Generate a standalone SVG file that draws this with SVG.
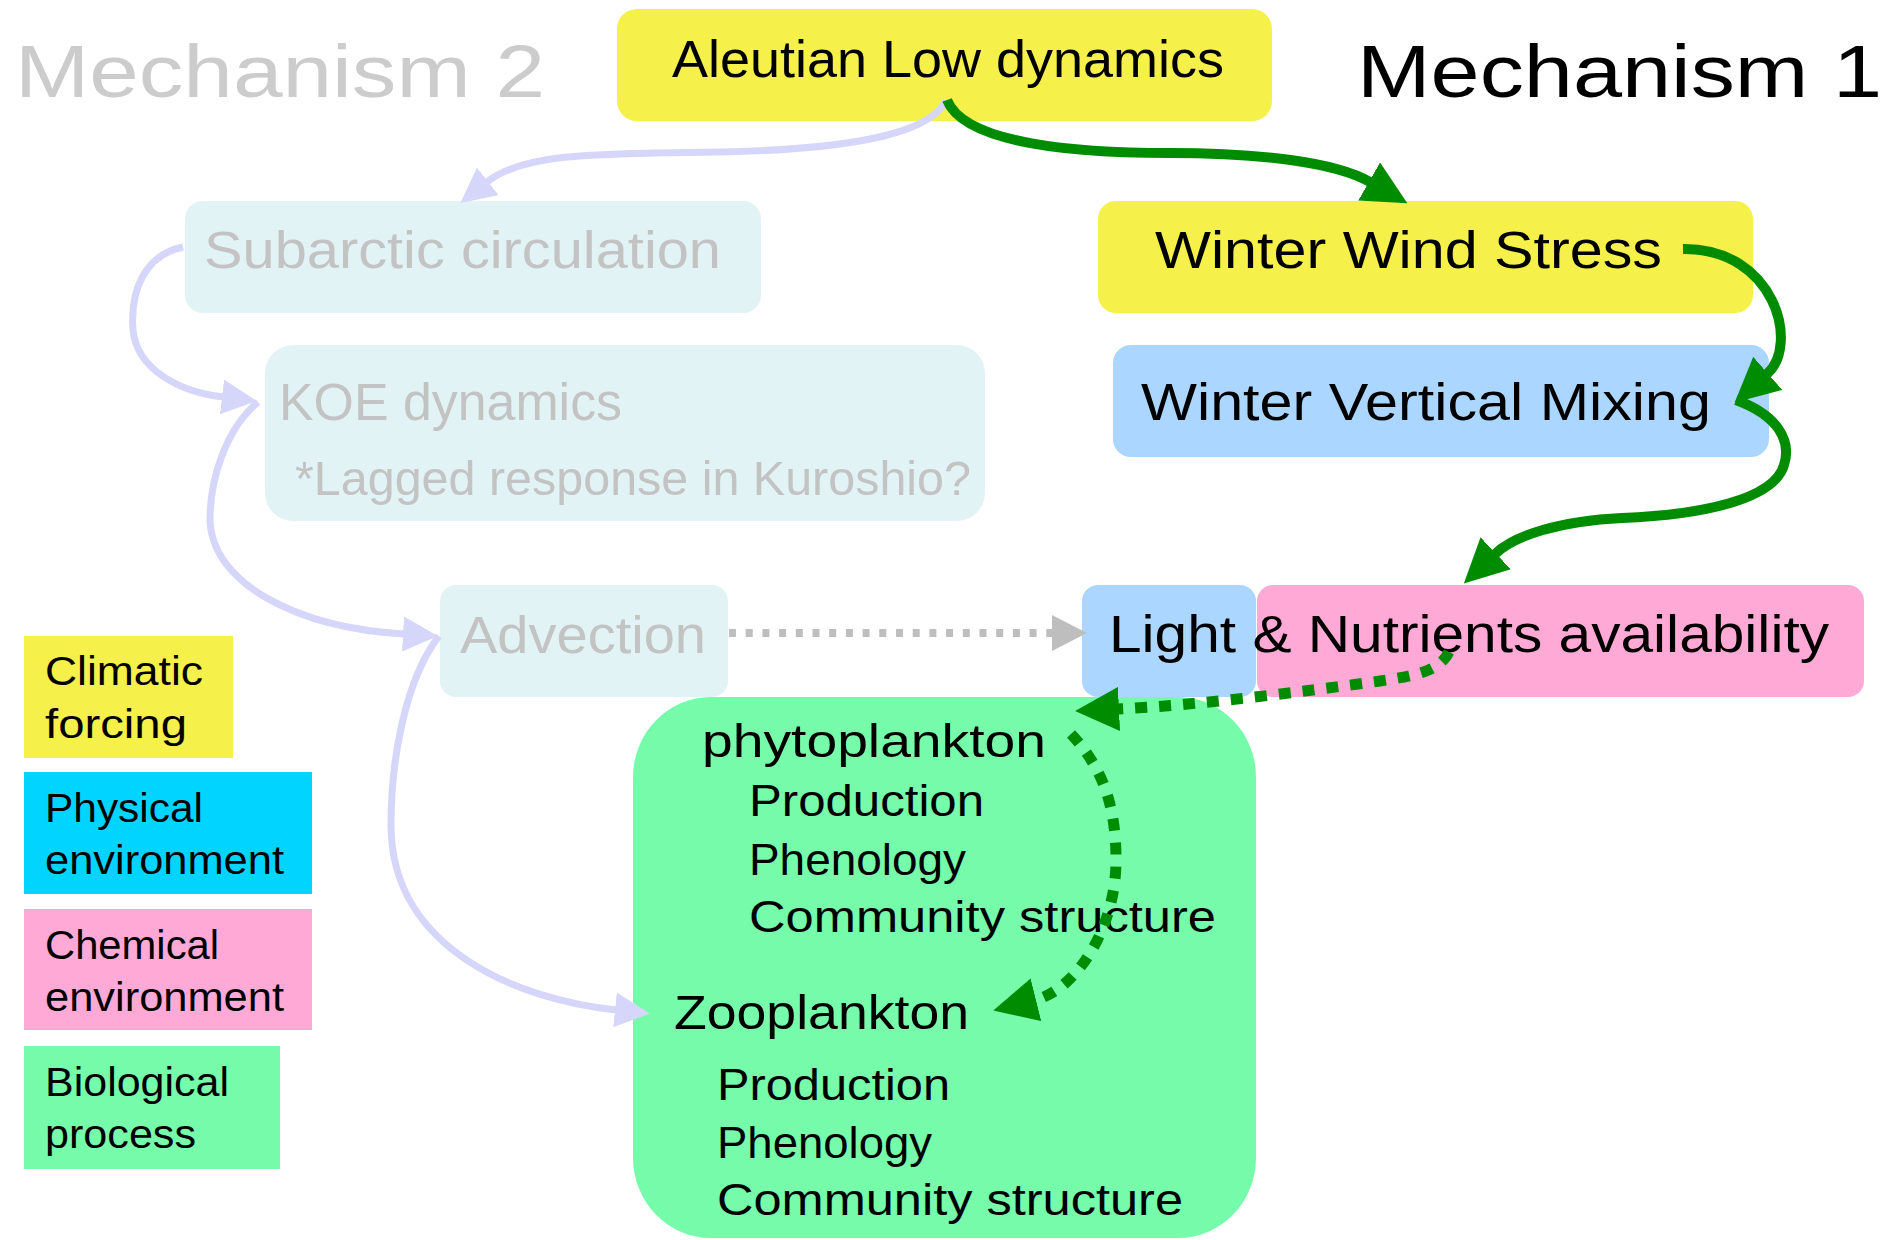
<svg xmlns="http://www.w3.org/2000/svg" width="1903" height="1240" viewBox="0 0 1903 1240">
<style>
text{font-family:"Liberation Sans",Arial,sans-serif;fill:#000}
.m2 text{fill:#c3c3c3}
.yel{fill:#f5f04a}
.pale{fill:#e1f3f5}
.blu{fill:#aad6ff}
.pnk{fill:#ffaad6}
.grn{fill:#76fbab}
.cyn{fill:#00d4ff}
.lav{fill:none;stroke:#d6d6fb;stroke-width:7}
.gs{fill:none;stroke:#008c00;stroke-width:10}
.gd{fill:none;stroke:#008c00;stroke-width:11;stroke-dasharray:12 12}
.gy{fill:none;stroke:#bebebe;stroke-width:8;stroke-dasharray:7 9.7}
</style>
<defs>
<marker id="hG" markerUnits="userSpaceOnUse" viewBox="0 0 44 44" markerWidth="44" markerHeight="44" refX="1" refY="22" orient="auto"><path d="M0,0 L44,22 L0,44 z" fill="#008c00"/></marker>
<marker id="hL" markerUnits="userSpaceOnUse" viewBox="0 0 35 35" markerWidth="35" markerHeight="35" refX="1" refY="17.5" orient="auto"><path d="M0,0 L35,17.5 L0,35 z" fill="#d6d6fb"/></marker>
<marker id="hY" markerUnits="userSpaceOnUse" viewBox="0 0 35 36" markerWidth="35" markerHeight="36" refX="1" refY="18" orient="auto"><path d="M0,0 L35,18 L0,36 z" fill="#bebebe"/></marker>
</defs>
<rect width="1903" height="1240" fill="#fff"/>

<g id="title-mechanism2"><text x="15" y="97" font-size="75" textLength="530" lengthAdjust="spacingAndGlyphs" style="fill:#cccccc">Mechanism 2</text></g>
<g id="title-mechanism1"><text x="1357" y="97" font-size="75" textLength="525" lengthAdjust="spacingAndGlyphs">Mechanism 1</text></g>

<g id="aleutian"><rect class="yel" x="617" y="9" width="655" height="112" rx="20"/><text x="672" y="77" font-size="52" textLength="552" lengthAdjust="spacingAndGlyphs">Aleutian Low dynamics</text></g>
<g id="subarctic" class="m2"><rect class="pale" x="185" y="201" width="576" height="112" rx="18"/><text x="204" y="268" font-size="51" textLength="517" lengthAdjust="spacingAndGlyphs">Subarctic circulation</text></g>
<g id="wind"><rect class="yel" x="1098" y="201" width="655" height="112" rx="18"/><text x="1155" y="268" font-size="51" textLength="507" lengthAdjust="spacingAndGlyphs">Winter Wind Stress</text></g>
<g id="koe" class="m2"><rect class="pale" x="265" y="345" width="720" height="176" rx="28"/><text x="279" y="420" font-size="51" textLength="343" lengthAdjust="spacingAndGlyphs">KOE dynamics</text><text x="295" y="495" font-size="49" textLength="676" lengthAdjust="spacingAndGlyphs">*Lagged response in Kuroshio?</text></g>
<g id="mixing"><rect class="blu" x="1113" y="345" width="656" height="112" rx="18"/><text x="1141" y="420" font-size="51" textLength="570" lengthAdjust="spacingAndGlyphs">Winter Vertical Mixing</text></g>
<g id="advection" class="m2"><rect class="pale" x="440" y="585" width="288" height="112" rx="16"/><text x="460" y="653" font-size="51" textLength="246" lengthAdjust="spacingAndGlyphs">Advection</text></g>
<g id="light-nutrients"><rect class="pnk" x="1257" y="585" width="607" height="112" rx="16"/><rect class="blu" x="1082" y="585" width="174" height="112" rx="16"/><text x="1109" y="652" font-size="51" textLength="720" lengthAdjust="spacingAndGlyphs">Light &amp; Nutrients availability</text></g>
<g id="plankton"><rect class="grn" x="633" y="697" width="623" height="541" rx="78" ry="80"/>
<text x="702" y="757" font-size="47" textLength="344" lengthAdjust="spacingAndGlyphs">phytoplankton</text>
<text x="749" y="816" font-size="45" textLength="235" lengthAdjust="spacingAndGlyphs">Production</text>
<text x="749" y="875" font-size="45" textLength="217" lengthAdjust="spacingAndGlyphs">Phenology</text>
<text x="749" y="932" font-size="45" textLength="467" lengthAdjust="spacingAndGlyphs">Community structure</text>
<text x="674" y="1029" font-size="48" textLength="295" lengthAdjust="spacingAndGlyphs">Zooplankton</text>
<text x="717" y="1100" font-size="45" textLength="233" lengthAdjust="spacingAndGlyphs">Production</text>
<text x="717" y="1158" font-size="45" textLength="215" lengthAdjust="spacingAndGlyphs">Phenology</text>
<text x="717" y="1215" font-size="45" textLength="466" lengthAdjust="spacingAndGlyphs">Community structure</text>
</g>

<g id="legend">
<g id="legend-climatic"><rect class="yel" x="24" y="636" width="209" height="122"/><text x="45" y="685" font-size="40" textLength="158" lengthAdjust="spacingAndGlyphs">Climatic</text><text x="45" y="738" font-size="40" textLength="142" lengthAdjust="spacingAndGlyphs">forcing</text></g>
<g id="legend-physical"><rect class="cyn" x="24" y="772" width="288" height="122"/><text x="45" y="822" font-size="40" textLength="158" lengthAdjust="spacingAndGlyphs">Physical</text><text x="45" y="874" font-size="40" textLength="239" lengthAdjust="spacingAndGlyphs">environment</text></g>
<g id="legend-chemical"><rect class="pnk" x="24" y="909" width="288" height="121"/><text x="45" y="959" font-size="40" textLength="174" lengthAdjust="spacingAndGlyphs">Chemical</text><text x="45" y="1011" font-size="40" textLength="239" lengthAdjust="spacingAndGlyphs">environment</text></g>
<g id="legend-biological"><rect class="grn" x="24" y="1046" width="256" height="123"/><text x="45" y="1096" font-size="40" textLength="184" lengthAdjust="spacingAndGlyphs">Biological</text><text x="45" y="1148" font-size="40" textLength="151" lengthAdjust="spacingAndGlyphs">process</text></g>
</g>

<g id="connectors">
<path class="lav" marker-end="url(#hL)" d="M946,100 C928,140 820,150 720,152 C600,154 525,152 487,182"/>
<path class="lav" marker-end="url(#hL)" d="M183,247 C145,255 130,290 133,330 C137,370 180,392 223,397"/>
<path class="lav" marker-end="url(#hL)" d="M258,402 C225,430 210,480 210,520 C212,585 300,628 404,634"/>
<path class="lav" marker-end="url(#hL)" d="M439,636 C405,680 391,760 391,825 C391,950 520,1000 616,1010"/>
<path class="gy" marker-end="url(#hY)" d="M729,633 L1053,633"/>
<path class="gs" marker-end="url(#hG)" d="M947,100 C965,145 1080,153 1170,153 C1260,153 1335,162 1370,182"/>
<path class="gs" marker-end="url(#hG)" d="M1683,249 C1775,248 1800,345 1767,374"/>
<path class="gs" marker-end="url(#hG)" d="M1736,400 C1777,415 1792,440 1784,465 C1774,500 1700,515 1622,518 C1560,521 1515,535 1495,554"/>
<path class="gd" marker-end="url(#hG)" d="M1449,652 C1440,670 1420,675 1380,681 C1300,692 1200,705 1118,709"/>
<path class="gd" marker-end="url(#hG)" d="M1071,734 C1105,770 1116,810 1116,860 C1116,930 1075,990 1035,1000"/>
</g>
</svg>
